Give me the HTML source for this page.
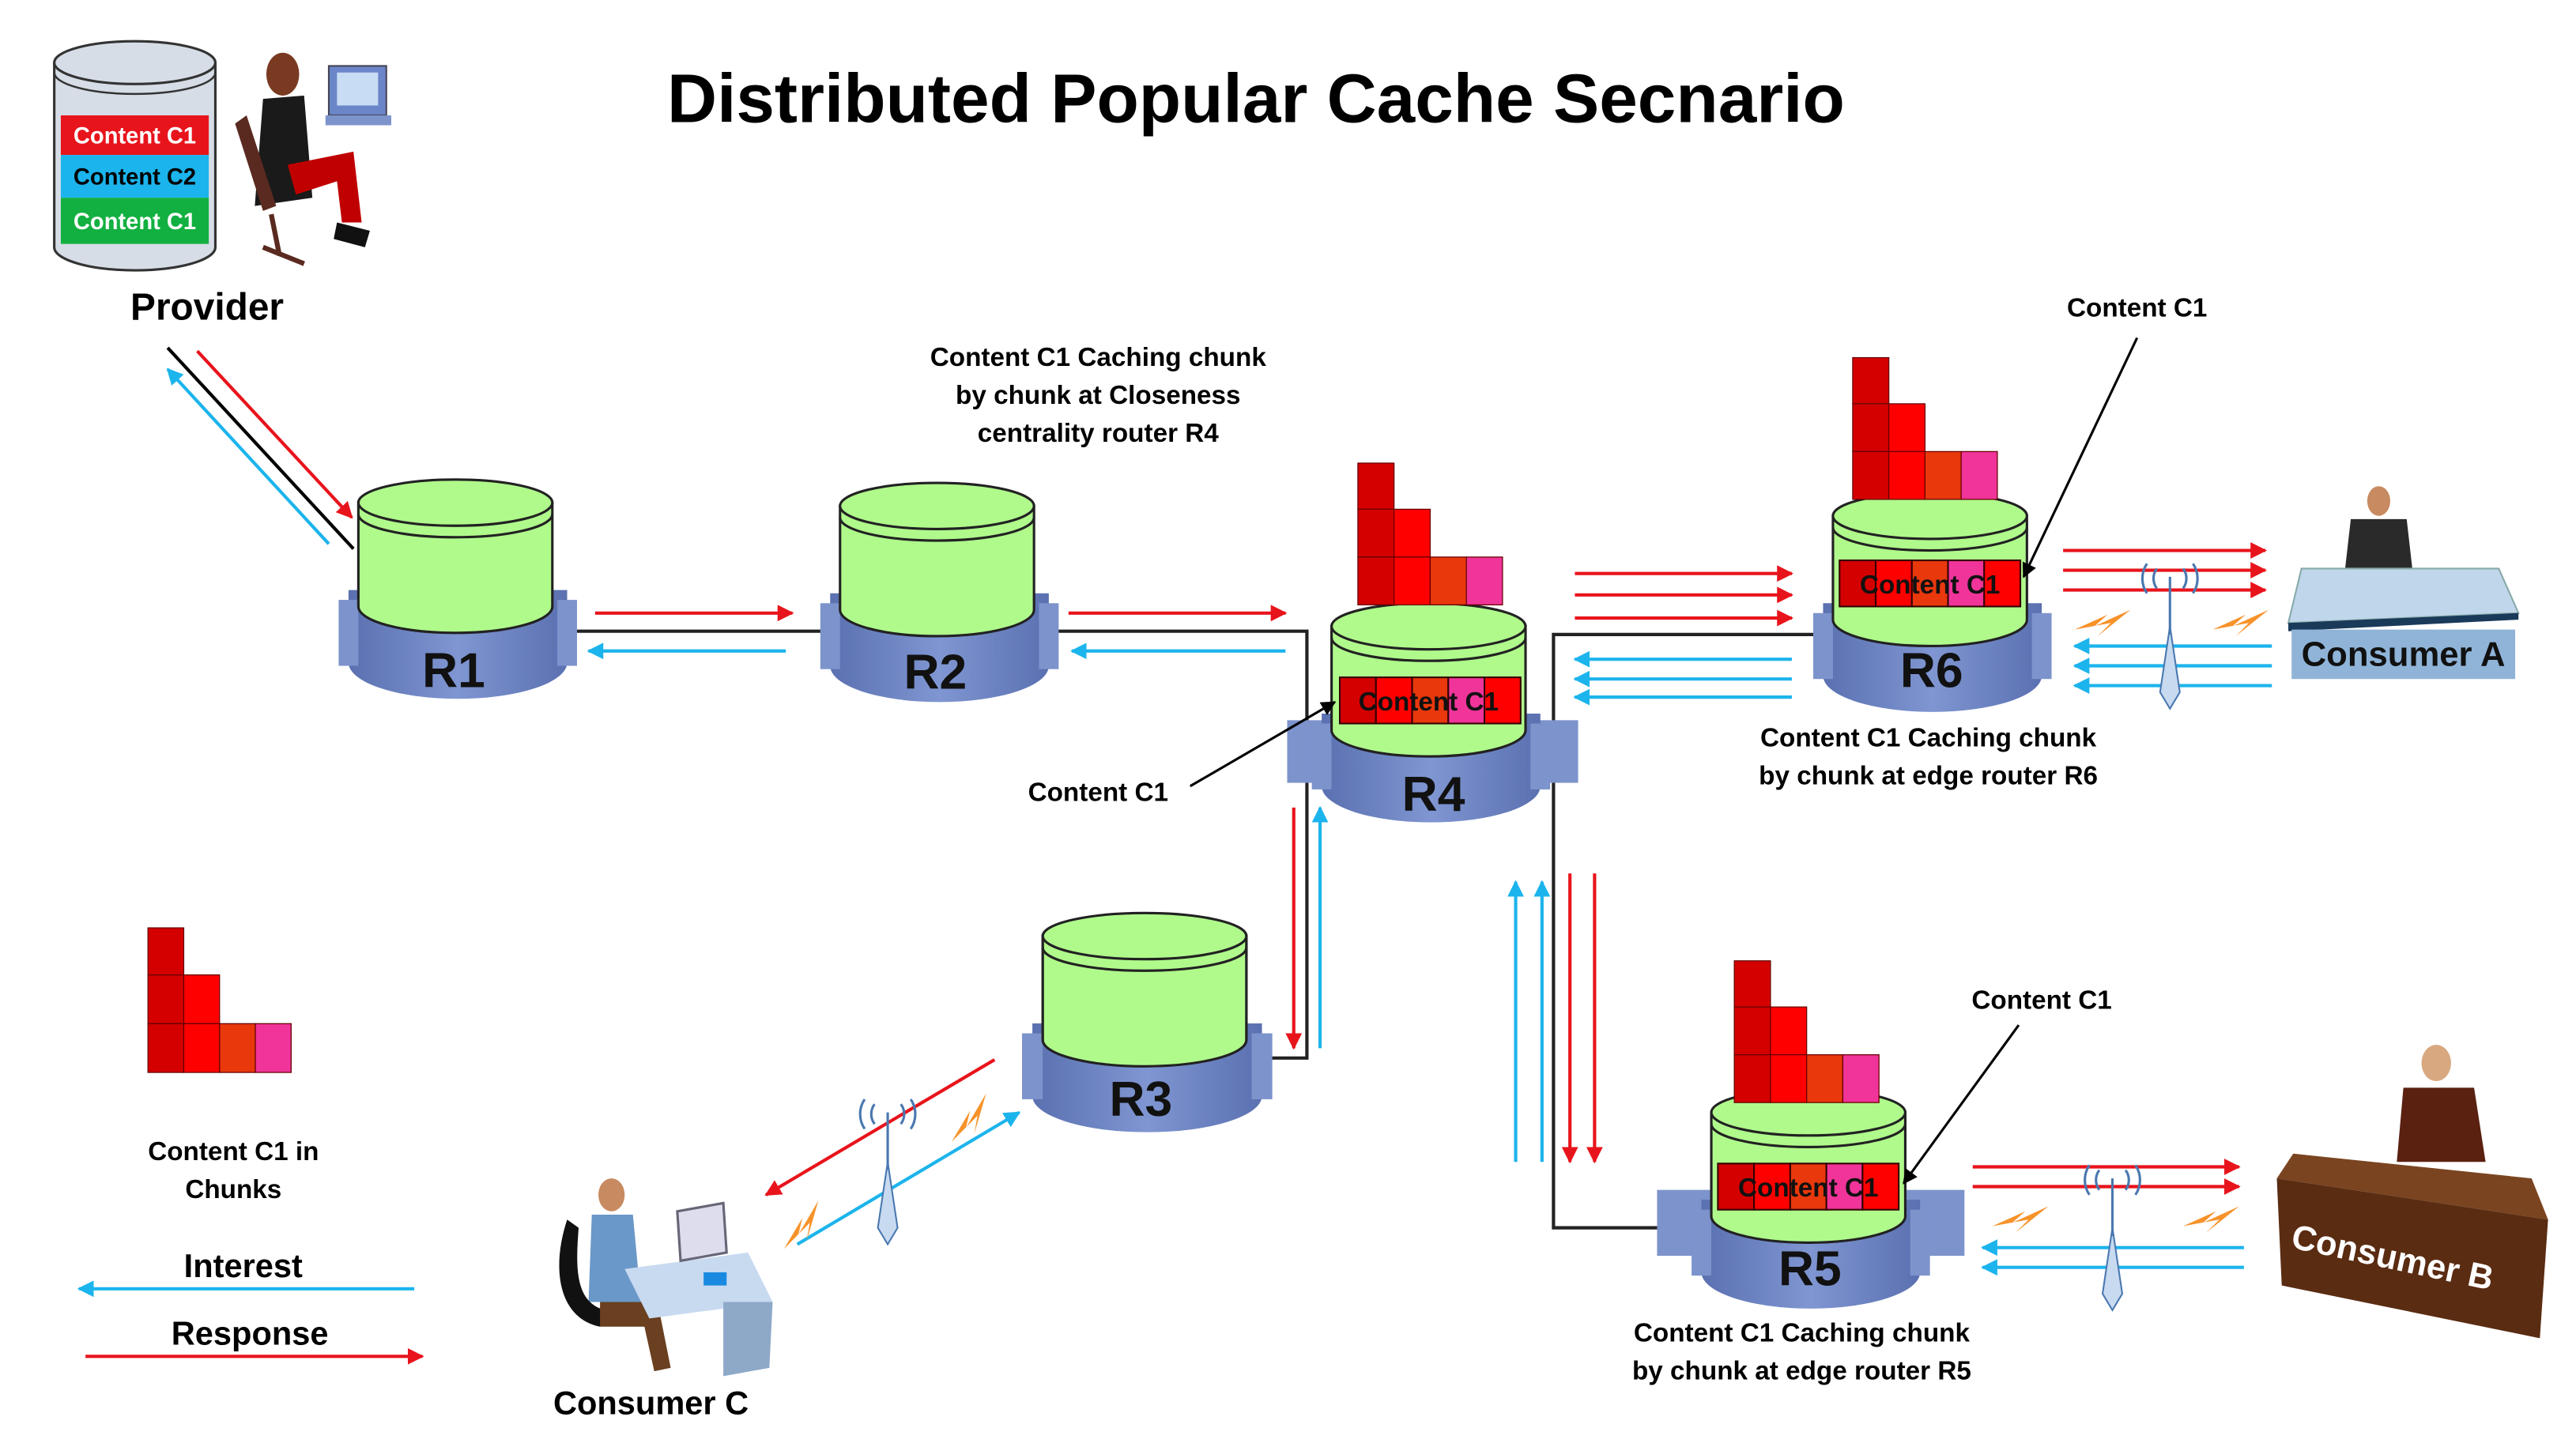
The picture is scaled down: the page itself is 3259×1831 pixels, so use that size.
<!DOCTYPE html>
<html><head><meta charset="utf-8"><style>
html,body{margin:0;padding:0;background:#fff;}
svg{display:block;}
text{font-family:"Liberation Sans",Arial,sans-serif;font-weight:bold;}
</style></head><body>
<svg width="3259" height="1831" viewBox="0 0 1567 878" preserveAspectRatio="none" xmlns="http://www.w3.org/2000/svg">
<defs>
<marker id="ar" viewBox="0 0 10 10" refX="9" refY="5" markerWidth="5" markerHeight="5" orient="auto"><path d="M0,0L10,5L0,10Z" fill="#e8141c"/></marker>
<marker id="ab" viewBox="0 0 10 10" refX="9" refY="5" markerWidth="5" markerHeight="5" orient="auto"><path d="M0,0L10,5L0,10Z" fill="#1cb4ec"/></marker>
<marker id="ak" viewBox="0 0 10 10" refX="9" refY="5" markerWidth="6" markerHeight="6" orient="auto"><path d="M0,0L10,5L0,10Z" fill="#000"/></marker>
<linearGradient id="gb" x1="0" x2="1"><stop offset="0" stop-color="#5a70b0"/><stop offset=".5" stop-color="#7f96d2"/><stop offset="1" stop-color="#5a70b0"/></linearGradient>
<g id="rt">
 <path d="M0,68 L133,68 L133,112 A66.5,22 0 0 1 0,112 Z" fill="url(#gb)"/>
 <rect x="-6" y="74" width="12" height="40" fill="#7d93cc"/>
 <rect x="127" y="74" width="12" height="40" fill="#7d93cc"/>
 <path d="M6,15 L6,78 A59,16 0 0 0 124,78 L124,15 Z" fill="#b0fa8c" stroke="#222" stroke-width="1.5"/>
 <ellipse cx="65" cy="15" rx="59" ry="14" fill="#b0fa8c" stroke="#222" stroke-width="1.5"/>
 <path d="M6,22 A59,14 0 0 0 124,22" fill="none" stroke="#222" stroke-width="1.5"/>
</g>
<g id="stk" stroke="#600" stroke-width=".6">
 <rect x="0" y="0" width="22" height="28" fill="#d40000"/>
 <rect x="0" y="28" width="22" height="29" fill="#d40000"/>
 <rect x="0" y="57" width="22" height="29" fill="#d40000"/>
 <rect x="22" y="28" width="22" height="29" fill="#f00"/>
 <rect x="22" y="57" width="22" height="29" fill="#f00"/>
 <rect x="44" y="57" width="22" height="29" fill="#e8380c"/>
 <rect x="66" y="57" width="22" height="29" fill="#f0349a"/>
</g>
<g id="bar" stroke="#300" stroke-width="1">
 <rect x="0" y="0" width="22" height="28" fill="#d40000"/>
 <rect x="22" y="0" width="22" height="28" fill="#f00"/>
 <rect x="44" y="0" width="22" height="28" fill="#e8380c"/>
 <rect x="66" y="0" width="22" height="28" fill="#f0349a"/>
 <rect x="88" y="0" width="22" height="28" fill="#f00"/>
</g>
<g id="ant">
 <path d="M0,0 L-6,40 L0,50 L6,40 Z" fill="#c8daf0" stroke="#4a78b0" stroke-width="1"/>
 <line x1="0" y1="-30" x2="0" y2="5" stroke="#4a78b0" stroke-width="1.5"/>
 <path d="M-8,-35 a10,10 0 0 0 0,12 M8,-35 a10,10 0 0 1 0,12 M-14,-38 a16,16 0 0 0 0,18 M14,-38 a16,16 0 0 1 0,18" fill="none" stroke="#4a78b0" stroke-width="1.5"/>
</g>
<path id="bolt" d="M0,12 L20,3 L12,10 L34,0 L14,16 L22,8 Z" fill="#f7922a"/>
</defs>

<text x="764" y="74" font-size="42" text-anchor="middle">Distributed Popular Cache Secnario</text>

<path d="M33,38 L33,150 A49,14 0 0 0 131,150 L131,38" fill="#d6dde6" stroke="#333" stroke-width="1.5"/>
<ellipse cx="82" cy="38" rx="49" ry="13" fill="#d6dde6" stroke="#333" stroke-width="1.5"/>
<path d="M33,44 A49,13 0 0 0 131,44" fill="none" stroke="#333" stroke-width="1.2"/>
<rect x="37" y="70" width="90" height="24" fill="#e8141c"/>
<rect x="37" y="94" width="90" height="26" fill="#1cb4ec"/>
<rect x="37" y="120" width="90" height="28" fill="#12b040"/>
<text x="82" y="87" font-size="14" fill="#fff" text-anchor="middle">Content C1</text>
<text x="82" y="112" font-size="14" fill="#000" text-anchor="middle">Content C2</text>
<text x="82" y="139" font-size="14" fill="#fff" text-anchor="middle">Content C1</text>
<ellipse cx="172" cy="45" rx="10" ry="13" fill="#7a3a22"/>
<path d="M160,60 L185,58 L190,120 L155,125 Z" fill="#1a1a1a"/>
<path d="M175,100 L215,92 L220,135 L208,135 L205,110 L180,118 Z" fill="#c00000"/>
<path d="M150,70 L168,125 L160,128 L143,75 Z" fill="#5a2a20"/>
<path d="M165,130 L170,155 M160,150 L185,160" stroke="#5a2a20" stroke-width="3"/>
<rect x="200" y="40" width="35" height="30" fill="#6b86c8" stroke="#445" stroke-width="1"/>
<rect x="205" y="44" width="25" height="20" fill="#c8dcf4"/>
<rect x="198" y="70" width="40" height="6" fill="#7d93cc"/>
<path d="M205,135 L225,140 L222,150 L203,145 Z" fill="#111"/>
<text x="126" y="194" font-size="23" text-anchor="middle">Provider</text>

<line x1="102" y1="211" x2="215" y2="333" stroke="#000" stroke-width="2"/>
<line x1="120" y1="213" x2="214" y2="314" stroke="#e8141c" stroke-width="2" marker-end="url(#ar)"/>
<line x1="200" y1="330" x2="102" y2="224" stroke="#1cb4ec" stroke-width="2" marker-end="url(#ab)"/>

<polyline points="345,383 505,383" fill="none" stroke="#222" stroke-width="2"/>
<polyline points="640,383 795,383 795,642 770,642" fill="none" stroke="#222" stroke-width="2"/>
<polyline points="945,470 945,385 1105,385" fill="none" stroke="#222" stroke-width="2"/>
<polyline points="945,470 945,745 1010,745" fill="none" stroke="#222" stroke-width="2"/>

<line x1="362" y1="372" x2="482" y2="372" stroke="#e8141c" stroke-width="2" marker-end="url(#ar)"/>
<line x1="478" y1="395" x2="358" y2="395" stroke="#1cb4ec" stroke-width="2" marker-end="url(#ab)"/>
<line x1="650" y1="372" x2="782" y2="372" stroke="#e8141c" stroke-width="2" marker-end="url(#ar)"/>
<line x1="782" y1="395" x2="652" y2="395" stroke="#1cb4ec" stroke-width="2" marker-end="url(#ab)"/>

<use href="#rt" transform="translate(212,290)"/>
<text x="276" y="417" font-size="30" text-anchor="middle" fill="#111">R1</text>
<use href="#rt" transform="translate(505,292)"/>
<text x="569" y="418" font-size="30" text-anchor="middle" fill="#111">R2</text>
<use href="#rt" transform="translate(628,553) scale(1.05,1)"/>
<text x="694" y="677" font-size="30" text-anchor="middle" fill="#111">R3</text>

<rect x="783" y="437" width="177" height="38" fill="#7d93cc"/>
<use href="#rt" transform="translate(804,365)"/>
<use href="#stk" transform="translate(826,281)"/>
<use href="#bar" transform="translate(815,411)"/>
<text x="869" y="431" font-size="16" font-weight="normal" text-anchor="middle" fill="#111">Content C1</text>
<text x="872" y="492" font-size="30" text-anchor="middle" fill="#111">R4</text>

<use href="#rt" transform="translate(1109,298)"/>
<use href="#stk" transform="translate(1127,217)"/>
<use href="#bar" transform="translate(1119,340)"/>
<text x="1174" y="360" font-size="16" font-weight="normal" text-anchor="middle" fill="#111">Content C1</text>
<text x="1175" y="417" font-size="30" text-anchor="middle" fill="#111">R6</text>

<rect x="1008" y="722" width="187" height="40" fill="#7d93cc"/>
<use href="#rt" transform="translate(1035,660)"/>
<use href="#stk" transform="translate(1055,583)"/>
<use href="#bar" transform="translate(1045,706)"/>
<text x="1100" y="726" font-size="16" font-weight="normal" text-anchor="middle" fill="#111">Content C1</text>
<text x="1101" y="780" font-size="30" text-anchor="middle" fill="#111">R5</text>

<g stroke="#e8141c" stroke-width="2">
<line x1="958" y1="348" x2="1090" y2="348" marker-end="url(#ar)"/>
<line x1="958" y1="361" x2="1090" y2="361" marker-end="url(#ar)"/>
<line x1="958" y1="375" x2="1090" y2="375" marker-end="url(#ar)"/>
<line x1="1255" y1="334" x2="1378" y2="334" marker-end="url(#ar)"/>
<line x1="1255" y1="346" x2="1378" y2="346" marker-end="url(#ar)"/>
<line x1="1255" y1="358" x2="1378" y2="358" marker-end="url(#ar)"/>
<line x1="1200" y1="708" x2="1362" y2="708" marker-end="url(#ar)"/>
<line x1="1200" y1="720" x2="1362" y2="720" marker-end="url(#ar)"/>
<line x1="787" y1="490" x2="787" y2="636" marker-end="url(#ar)"/>
<line x1="955" y1="530" x2="955" y2="705" marker-end="url(#ar)"/>
<line x1="970" y1="530" x2="970" y2="705" marker-end="url(#ar)"/>
<line x1="605" y1="643" x2="466" y2="725" marker-end="url(#ar)"/>
<line x1="52" y1="823" x2="257" y2="823" marker-end="url(#ar)"/>
</g>
<g stroke="#1cb4ec" stroke-width="2">
<line x1="1090" y1="400" x2="958" y2="400" marker-end="url(#ab)"/>
<line x1="1090" y1="412" x2="958" y2="412" marker-end="url(#ab)"/>
<line x1="1090" y1="423" x2="958" y2="423" marker-end="url(#ab)"/>
<line x1="1382" y1="392" x2="1262" y2="392" marker-end="url(#ab)"/>
<line x1="1382" y1="404" x2="1262" y2="404" marker-end="url(#ab)"/>
<line x1="1382" y1="416" x2="1262" y2="416" marker-end="url(#ab)"/>
<line x1="1365" y1="757" x2="1206" y2="757" marker-end="url(#ab)"/>
<line x1="1365" y1="769" x2="1206" y2="769" marker-end="url(#ab)"/>
<line x1="803" y1="636" x2="803" y2="490" marker-end="url(#ab)"/>
<line x1="922" y1="705" x2="922" y2="535" marker-end="url(#ab)"/>
<line x1="938" y1="705" x2="938" y2="535" marker-end="url(#ab)"/>
<line x1="485" y1="755" x2="620" y2="675" marker-end="url(#ab)"/>
<line x1="252" y1="782" x2="48" y2="782" marker-end="url(#ab)"/>
</g>

<use href="#ant" transform="translate(1320,380)"/>
<use href="#bolt" transform="translate(1262,370)"/>
<use href="#bolt" transform="translate(1346,370)"/>
<use href="#ant" transform="translate(1285,745)"/>
<use href="#bolt" transform="translate(1212,732)"/>
<use href="#bolt" transform="translate(1328,732)"/>
<use href="#ant" transform="translate(540,705)"/>
<use href="#bolt" transform="translate(470,748) rotate(-35)"/>
<use href="#bolt" transform="translate(572,683) rotate(-35)"/>

<text x="1300" y="192" font-size="16" text-anchor="middle">Content C1</text>
<line x1="1300" y1="205" x2="1231" y2="350" stroke="#000" stroke-width="1.5" marker-end="url(#ak)"/>
<text x="668" y="486" font-size="16" text-anchor="middle">Content C1</text>
<line x1="724" y1="477" x2="812" y2="426" stroke="#000" stroke-width="1.5" marker-end="url(#ak)"/>
<text x="1242" y="612" font-size="16" text-anchor="middle">Content C1</text>
<line x1="1228" y1="622" x2="1158" y2="718" stroke="#000" stroke-width="1.5" marker-end="url(#ak)"/>

<g font-size="16" text-anchor="middle">
<text x="668" y="222">Content C1 Caching chunk</text>
<text x="668" y="245">by chunk at Closeness</text>
<text x="668" y="268">centrality router R4</text>
<text x="1173" y="453">Content C1 Caching chunk</text>
<text x="1173" y="476">by chunk at edge router R6</text>
<text x="1096" y="814">Content C1 Caching chunk</text>
<text x="1096" y="837">by chunk at edge router R5</text>
<text x="142" y="704">Content C1 in</text>
<text x="142" y="727">Chunks</text>
</g>

<ellipse cx="1447" cy="304" rx="7" ry="9" fill="#c88a60"/>
<path d="M1430,315 L1464,315 L1468,350 L1426,350 Z" fill="#2a2a2a"/>
<path d="M1400,345 L1520,345 L1532,372 L1392,378 Z" fill="#c0d6ea" stroke="#8aa" stroke-width="1"/>
<path d="M1392,378 L1532,372 L1532,376 L1392,383 Z" fill="#1a3a5a"/>
<rect x="1394" y="382" width="136" height="30" fill="#8fb4d8"/>
<text x="1462" y="404" font-size="21" text-anchor="middle" fill="#111">Consumer A</text>

<ellipse cx="1482" cy="645" rx="9" ry="11" fill="#d8a880"/>
<path d="M1462,660 L1505,660 L1512,705 L1458,705 Z" fill="#5a2010"/>
<path d="M1395,700 L1540,715 L1550,740 L1385,715 Z" fill="#7a4420"/>
<path d="M1385,715 L1550,740 L1545,812 L1388,780 Z" fill="#5a2c12"/>
<text x="1455" y="770" font-size="21" text-anchor="middle" fill="#fff" transform="rotate(12 1455 765)">Consumer B</text>

<ellipse cx="372" cy="725" rx="8" ry="10" fill="#c88a60"/>
<path d="M360,737 L385,737 L390,790 L358,790 Z" fill="#6a98c8"/>
<path d="M345,740 C335,770 340,800 365,805 L368,795 C350,790 350,770 352,745 Z" fill="#111"/>
<path d="M365,790 L400,790 L408,830 L398,832 L392,805 L365,805 Z" fill="#6a4020"/>
<path d="M380,770 L455,760 L470,790 L395,800 Z" fill="#c8daf0"/>
<path d="M440,790 L470,790 L468,830 L440,835 Z" fill="#8ea8c8"/>
<path d="M412,735 L440,730 L442,760 L414,765 Z" fill="#dde" stroke="#667" stroke-width="1.5"/>
<rect x="428" y="772" width="14" height="8" fill="#1a8ae0"/>
<text x="396" y="858" font-size="20" text-anchor="middle">Consumer C</text>

<use href="#stk" transform="translate(90,563) scale(0.99,1.02)"/>
<text x="148" y="775" font-size="20" text-anchor="middle">Interest</text>
<text x="152" y="816" font-size="20" text-anchor="middle">Response</text>
</svg>
</body></html>
